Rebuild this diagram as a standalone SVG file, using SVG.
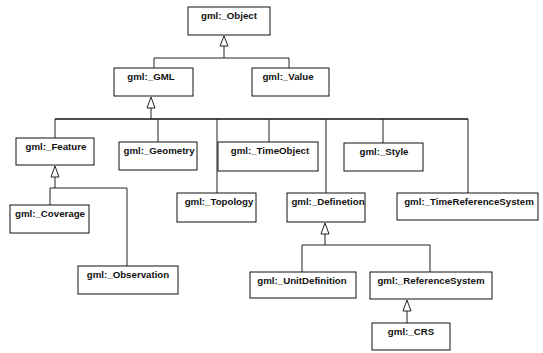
<svg xmlns="http://www.w3.org/2000/svg" width="543" height="353" viewBox="0 0 543 353">
<style>
.box{fill:#fff;stroke:#111;stroke-width:1}
.lbl{font-family:"Liberation Sans",Arial,sans-serif;font-size:9.7px;font-weight:bold;fill:#111;text-anchor:middle}
.ln{fill:none;stroke:#222;stroke-width:1}
.bus{fill:none;stroke:#111;stroke-width:1.4}
.tri{fill:#fff;stroke:#222;stroke-width:1}
</style>
<rect width="543" height="353" fill="#fff"/>
<g id="connectors">
<polygon class="tri" points="224,36 220,46 228,46"/>
<polyline class="ln" points="224,46 224,58"/>
<polyline class="ln" points="154,68 154,58 289,58 289,68"/>
<polygon class="tri" points="151,97 147,108 155,108"/>
<polyline class="ln" points="151,108 151,119"/>
<polyline class="bus" points="55,119 468,119"/>
<line class="ln" x1="55" y1="119" x2="55" y2="138"/>
<line class="ln" x1="158" y1="119" x2="158" y2="142"/>
<line class="ln" x1="217" y1="119" x2="217" y2="193"/>
<line class="ln" x1="269" y1="119" x2="269" y2="142"/>
<line class="ln" x1="326" y1="119" x2="326" y2="193"/>
<line class="ln" x1="383" y1="119" x2="383" y2="143"/>
<line class="ln" x1="468" y1="119" x2="468" y2="193"/>
<polygon class="tri" points="55,166 51,177 59,177"/>
<polyline class="ln" points="55,177 55,188"/>
<polyline class="ln" points="50,205 50,188 127,188 127,266"/>
<polygon class="tri" points="325,223 321,234 329,234"/>
<polyline class="ln" points="325,234 325,245"/>
<polyline class="ln" points="302,272 302,245 430,245 430,272"/>
<polygon class="tri" points="407,300 403,311 411,311"/>
<polyline class="ln" points="407,311 407,323"/>
</g>
<g id="object"><rect class="box" x="188" y="7" width="82" height="28"/><text class="lbl" x="229" y="19">gml:_Object</text></g>
<g id="gml"><rect class="box" x="114" y="68" width="79" height="28"/><text class="lbl" x="151" y="80">gml:_GML</text></g>
<g id="value"><rect class="box" x="252" y="68" width="77" height="28"/><text class="lbl" x="288" y="80">gml:_Value</text></g>
<g id="feature"><rect class="box" x="16" y="138" width="78" height="27"/><text class="lbl" x="56" y="150">gml:_Feature</text></g>
<g id="geometry"><rect class="box" x="119" y="142" width="78" height="28"/><text class="lbl" x="159" y="154">gml:_Geometry</text></g>
<g id="timeobject"><rect class="box" x="218" y="142" width="100" height="29"/><text class="lbl" x="270" y="154">gml:_TimeObject</text></g>
<g id="style"><rect class="box" x="344" y="143" width="79" height="28"/><text class="lbl" x="384" y="155">gml:_Style</text></g>
<g id="topology"><rect class="box" x="177" y="193" width="79" height="29"/><text class="lbl" x="219" y="205">gml:_Topology</text></g>
<g id="definetion"><rect class="box" x="287" y="193" width="78" height="29"/><text class="lbl" x="328" y="205">gml:_Definetion</text></g>
<g id="timereferencesystem"><rect class="box" x="397" y="193" width="141" height="27"/><text class="lbl" x="469" y="205">gml:_TimeReferenceSystem</text></g>
<g id="coverage"><rect class="box" x="10" y="205" width="79" height="28"/><text class="lbl" x="50" y="217">gml:_Coverage</text></g>
<g id="observation"><rect class="box" x="78" y="266" width="100" height="28"/><text class="lbl" x="128" y="278">gml:_Observation</text></g>
<g id="unitdefinition"><rect class="box" x="250" y="272" width="106" height="26"/><text class="lbl" x="302" y="284">gml:_UnitDefinition</text></g>
<g id="referencesystem"><rect class="box" x="370" y="272" width="122" height="27"/><text class="lbl" x="431" y="284">gml:_ReferenceSystem</text></g>
<g id="crs"><rect class="box" x="372" y="323" width="78" height="27"/><text class="lbl" x="411" y="335">gml:_CRS</text></g>
</svg>
